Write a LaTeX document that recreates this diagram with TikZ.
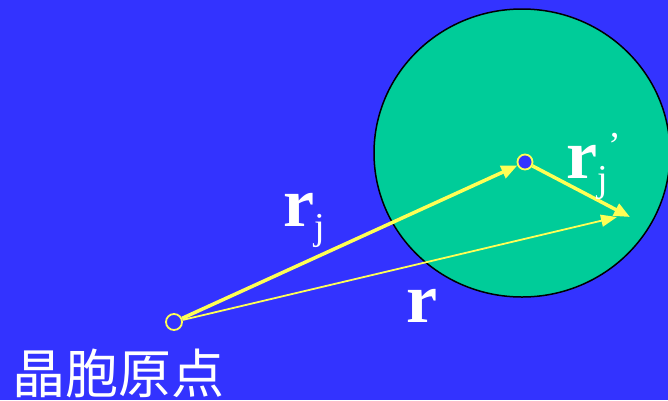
\documentclass[tikz,border=0pt]{standalone}
\usepackage{fontspec}
\setmainfont{Liberation Serif}
\newfontfamily\cjk{Noto Sans CJK SC}
\usetikzlibrary{arrows.meta}
\definecolor{bg}{HTML}{3333FF}
\definecolor{cell}{HTML}{00CC99}
\definecolor{yel}{HTML}{FFFF55}
\begin{document}
\begin{tikzpicture}[x=1pt,y=-1pt,
  vec/.style={yel, line width=3.5pt, -{Triangle[length=16pt,width=13pt]}},
  thinvec/.style={yel, line width=1.8pt, -{Triangle[length=16pt,width=12pt]}},
  lab/.style={text=white, font=\fontsize{70}{70}\selectfont\bfseries, inner sep=0pt}]
\useasboundingbox (0,0) rectangle (668,400);
\fill[bg] (0,0) rectangle (668,400);
\filldraw[fill=cell, draw=black, line width=1.5pt] (522,153) ellipse [x radius=148, y radius=144];
\node[circle, draw=yel, fill=bg, line width=1.8pt, minimum size=16pt, inner sep=0pt] (o) at (174,322) {};
\node[circle, draw=yel, fill=bg, line width=1.8pt, minimum size=15pt, inner sep=0pt] (a) at (525,162) {};
\coordinate (p) at (630,217);
\coordinate (q) at (617,217);
\draw[vec] (o) -- (a);
\draw[vec] (a) -- (p);
\draw[thinvec] (o) -- (q);
\node[lab, anchor=base] (lrj) at (304,226) {r\textmd{\fontsize{38}{38}\selectfont\raisebox{-13pt}{j}}};
\node[lab, anchor=base] (lr) at (422,322) {r};
\node[lab, anchor=base] (lrjp) at (594,178) {r\textmd{\fontsize{38}{38}\selectfont\raisebox{-13pt}{j}\raisebox{20pt}{'}}};
\node[text=white, font=\cjk\fontsize{53}{53}\selectfont, anchor=base west, inner sep=0pt] (t) at (12,393) {晶胞原点};
\end{tikzpicture}
\end{document}
